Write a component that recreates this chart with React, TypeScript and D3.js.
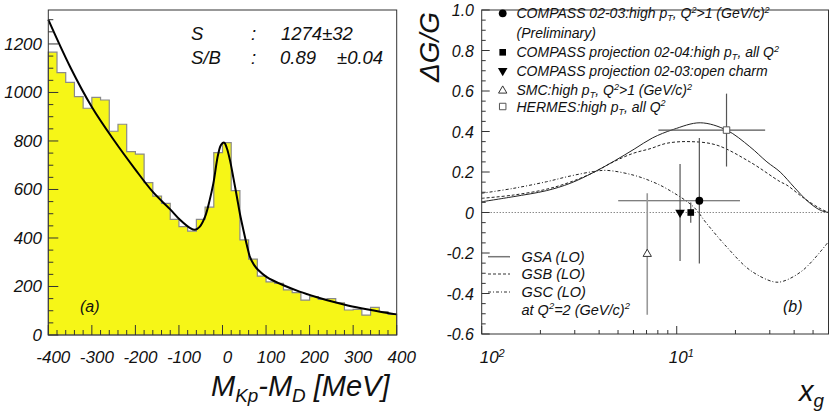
import React, { useEffect, useRef } from "react";
import * as d3 from "d3";

const W = 830;
const H = 413;
const FONT = "'Liberation Sans', Arial, sans-serif";

// ---- left panel: mass spectrum ----
const binLow = d3.range(-400, 400, 20);
const binCounts = [
  1166, 1082, 1042, 983, 935, 980, 969, 840, 869, 756, 746, 628, 573, 543, 477,
  447, 428, 477, 527, 752, 793, 595, 392, 313, 243, 219, 213, 186, 175, 144, 158,
  147, 150, 133, 103, 106, 82, 114, 96, 85,
];
const fitMass = [
  -400, -350, -300, -250, -200, -160, -120, -97, -75, -63, -52, -40, -30, -21,
  -10, -3, 4, 10, 17, 25, 33, 40, 48, 56, 63, 72, 82, 101, 140, 177, 215, 254,
  290, 331, 365, 400,
];
const fitCounts = [
  1300, 1106, 940, 805, 682, 590, 518, 474, 442, 434, 447, 488, 552, 625, 745,
  785, 793, 770, 722, 648, 570, 500, 433, 370, 322, 290, 268, 240, 205, 179, 157,
  137, 121, 106, 95, 85,
];
const massTicks = [-400, -300, -200, -100, 0, 100, 200, 300, 400];
const countTicks = [0, 200, 400, 600, 800, 1000, 1200];

// ---- right panel: dG/G vs x_g ----
const gsaX = [0.01, 0.0145, 0.0215, 0.0284, 0.0373, 0.048, 0.061, 0.075, 0.096, 0.132, 0.18, 0.237, 0.29, 0.339, 0.4, 0.47, 0.543, 0.6];
const gsaY = [0.053, 0.078, 0.108, 0.144, 0.197, 0.255, 0.315, 0.368, 0.41, 0.443, 0.407, 0.325, 0.25, 0.2, 0.125, 0.055, 0.012, 0.0];
const gsbX = [0.01, 0.0145, 0.0215, 0.0284, 0.0373, 0.0473, 0.0597, 0.073, 0.089, 0.117, 0.16, 0.237, 0.339, 0.366, 0.45, 0.543, 0.6];
const gsbY = [0.07, 0.086, 0.115, 0.15, 0.197, 0.25, 0.292, 0.315, 0.342, 0.35, 0.333, 0.25, 0.152, 0.136, 0.07, 0.02, 0.0];
const gscX = [0.01, 0.0145, 0.0215, 0.0284, 0.0373, 0.0437, 0.0597, 0.075, 0.089, 0.1216, 0.142, 0.18, 0.237, 0.313, 0.35, 0.445, 0.6];
const gscY = [0.095, 0.119, 0.152, 0.18, 0.202, 0.208, 0.185, 0.152, 0.117, 0.029, -0.053, -0.169, -0.284, -0.342, -0.34, -0.284, -0.144];

const pointNames = ["compass", "projHighPt", "projCharm", "smc", "hermes"];
const pointX = [0.1306, 0.118, 0.104, 0.0706, 0.18];
const pointY = [0.058, 0.0, 0.0, -0.205, 0.407];
const pointErr = [0.31, 0.05, 0.24, 0.3, 0.18];
const pointXLo = [0.0501, null, null, null, 0.0805];
const pointXHi = [0.211, null, null, null, 0.284];

const dgTicks = [-0.6, -0.4, -0.2, 0, 0.2, 0.4, 0.6, 0.8, 1.0];
const dgLabels = ["-0.6", "-0.4", "-0.2", "0", "0.2", "0.4", "0.6", "0.8", "1.0"];

type Part = [string, string?];

function richText(g: any, x: number, y: number, parts: Part[], size: number) {
  const t = g
    .append("text")
    .attr("x", x)
    .attr("y", y)
    .attr("font-size", size)
    .attr("font-style", "italic")
    .attr("fill", "#111");
  let shift = 0;
  parts.forEach(([s, kind]) => {
    const target = kind === "sub" ? size * 0.22 : kind === "sup" ? -size * 0.38 : 0;
    t.append("tspan")
      .attr("dy", target - shift)
      .attr("font-size", kind ? size * 0.65 : size)
      .text(s);
    shift = target;
  });
  return t;
}

function drawMarker(g: any, name: string, cx: number, cy: number) {
  if (name === "compass") {
    g.append("path").attr("d", d3.symbol(d3.symbolCircle, 48)()).attr("transform", `translate(${cx},${cy})`).attr("fill", "#000");
  } else if (name === "projHighPt") {
    g.append("path").attr("d", d3.symbol(d3.symbolSquare, 44)()).attr("transform", `translate(${cx},${cy})`).attr("fill", "#000");
  } else if (name === "projCharm") {
    g.append("path").attr("d", d3.symbol(d3.symbolTriangle, 40)()).attr("transform", `translate(${cx},${cy}) rotate(180)`).attr("fill", "#000");
  } else if (name === "smc") {
    g.append("path").attr("d", d3.symbol(d3.symbolTriangle, 30)()).attr("transform", `translate(${cx},${cy})`).attr("fill", "#fff").attr("stroke", "#333").attr("stroke-width", 1);
  } else {
    g.append("path").attr("d", d3.symbol(d3.symbolSquare, 42)()).attr("transform", `translate(${cx},${cy})`).attr("fill", "#fff").attr("stroke", "#555").attr("stroke-width", 1);
  }
}

export default function App() {
  const ref = useRef<SVGSVGElement>(null);

  useEffect(() => {
    const svg = d3.select(ref.current);
    svg.selectAll("*").remove();
    svg.append("rect").attr("width", W).attr("height", H).attr("fill", "#fff");

    // ================= left panel =================
    const left = svg.append("g");
    const x = d3.scaleLinear().domain([-400, 400]).range([48.3, 396.7]);
    const y = d3.scaleLinear().domain([0, 1340]).range([335, 10]);

    // histogram as a step outline
    let d = `M${x(-400)},${y(0)}`;
    binLow.forEach((lo, i) => {
      d += `L${x(lo)},${y(binCounts[i])}L${x(lo + 20)},${y(binCounts[i])}`;
    });
    d += `L${x(400)},${y(0)}Z`;
    left.append("path").attr("d", d).attr("fill", "#f6f617").attr("stroke", "#8a8a8a").attr("stroke-width", 1.2);

    // fit curve
    const fitLine = d3
      .line<number>()
      .x((_, i) => x(fitMass[i]))
      .y((v) => y(v))
      .curve(d3.curveCatmullRom);
    left.append("path").attr("d", fitLine(fitCounts)).attr("fill", "none").attr("stroke", "#000").attr("stroke-width", 2);

    // frame
    left.append("rect").attr("x", x(-400)).attr("y", y(1340)).attr("width", x(400) - x(-400)).attr("height", y(0) - y(1340))
      .attr("fill", "none").attr("stroke", "#333").attr("stroke-width", 1);

    // y ticks
    d3.range(0, 1301, 50).forEach((v) => {
      const len = v % 200 === 0 ? 10 : 5;
      left.append("line").attr("x1", x(-400)).attr("x2", x(-400) + len).attr("y1", y(v)).attr("y2", y(v)).attr("stroke", "#333");
    });
    countTicks.forEach((v) => {
      left.append("text").attr("x", 42).attr("y", y(v) + 6).attr("text-anchor", "end")
        .attr("font-size", 17).attr("font-style", "italic").attr("fill", "#111").text(v);
    });
    // x ticks
    d3.range(-400, 401, 20).forEach((v) => {
      const len = v % 100 === 0 ? 10 : 5;
      left.append("line").attr("x1", x(v)).attr("x2", x(v)).attr("y1", y(0)).attr("y2", y(0) - len).attr("stroke", "#333");
    });
    massTicks.forEach((v) => {
      left.append("text").attr("x", x(v) + 5).attr("y", 363).attr("text-anchor", "middle")
        .attr("font-size", 17).attr("font-style", "italic").attr("fill", "#111").text(v);
    });

    // axis title
    richText(left, 211, 396, [["M"], ["Kp", "sub"], ["-M"], ["D", "sub"], [" [MeV]"]], 29);

    // fit results
    const stat = (tx: number, ty: number, s: string) =>
      left.append("text").attr("x", tx).attr("y", ty).attr("font-size", 18.5).attr("font-style", "italic").attr("fill", "#111").text(s);
    stat(191, 40, "S");
    stat(251, 40, ":");
    stat(281, 40, "1274±32");
    stat(191, 64, "S/B");
    stat(251, 64, ":");
    stat(280, 64, "0.89");
    stat(337, 64, "±0.04");
    left.append("text").attr("x", 80).attr("y", 312).attr("font-size", 16).attr("font-style", "italic").attr("fill", "#111").text("(a)");

    // ================= right panel =================
    const right = svg.append("g");
    const xr = d3.scaleLog().domain([0.01, 0.6]).range([481.7, 828.5]);
    const yr = d3.scaleLinear().domain([-0.6, 1.0]).range([334, 10]);

    // zero line
    right.append("line").attr("x1", xr(0.01)).attr("x2", xr(0.6)).attr("y1", yr(0)).attr("y2", yr(0))
      .attr("stroke", "#555").attr("stroke-width", 1).attr("stroke-dasharray", "1,2");

    const curve = (xs: number[], ys: number[], dash: string | null) => {
      const line = d3
        .line<number>()
        .x((_, i) => xr(xs[i]))
        .y((v) => yr(v))
        .curve(d3.curveCatmullRom);
      const p = right.append("path").attr("d", line(ys)).attr("fill", "none").attr("stroke", "#222").attr("stroke-width", 1);
      if (dash) p.attr("stroke-dasharray", dash);
    };
    curve(gsaX, gsaY, null);
    curve(gsbX, gsbY, "3,2");
    curve(gscX, gscY, "3,2,1,2");

    // data points with error bars
    pointNames.forEach((name, i) => {
      const cx = xr(pointX[i]);
      const cy = yr(pointY[i]);
      const col = name === "smc" ? "#999" : "#555";
      const sw = name === "smc" ? 1.6 : 1.2;
      right.append("line").attr("x1", cx).attr("x2", cx).attr("y1", yr(pointY[i] + pointErr[i])).attr("y2", yr(pointY[i] - pointErr[i]))
        .attr("stroke", col).attr("stroke-width", sw);
      const lo = pointXLo[i];
      const hi = pointXHi[i];
      if (lo !== null && hi !== null) {
        right.append("line").attr("x1", xr(lo)).attr("x2", xr(hi)).attr("y1", cy).attr("y2", cy).attr("stroke", col).attr("stroke-width", sw);
      }
      drawMarker(right, name, cx, cy);
    });

    // frame
    right.append("rect").attr("x", xr(0.01)).attr("y", yr(1.0)).attr("width", xr(0.6) - xr(0.01)).attr("height", yr(-0.6) - yr(1.0))
      .attr("fill", "none").attr("stroke", "#333").attr("stroke-width", 1);

    // y ticks
    d3.range(-12, 21).forEach((k) => {
      const v = k * 0.05;
      const len = k % 4 === 0 ? 8 : 4;
      right.append("line").attr("x1", xr(0.01)).attr("x2", xr(0.01) + len).attr("y1", yr(v)).attr("y2", yr(v)).attr("stroke", "#333");
    });
    dgTicks.forEach((v, i) => {
      right.append("text").attr("x", 474).attr("y", yr(v) + 6).attr("text-anchor", "end")
        .attr("font-size", 16).attr("font-style", "italic").attr("fill", "#111").text(dgLabels[i]);
    });
    // x ticks (log)
    [0.01, 0.02, 0.03, 0.04, 0.05, 0.06, 0.07, 0.08, 0.09, 0.1, 0.2, 0.3, 0.4, 0.5].forEach((v) => {
      const len = v === 0.01 || v === 0.1 ? 8 : 4;
      right.append("line").attr("x1", xr(v)).attr("x2", xr(v)).attr("y1", yr(-0.6)).attr("y2", yr(-0.6) - len).attr("stroke", "#333");
    });
    richText(right, xr(0.01) - 2, 363, [["10"], ["2", "sup"]], 17);
    richText(right, xr(0.1) - 8, 363, [["10"], ["1", "sup"]], 17);

    // axis titles
    right.append("text").attr("transform", "translate(439,82) rotate(-90)").attr("font-size", 28)
      .attr("font-style", "italic").attr("fill", "#111").text("ΔG/G");
    richText(right, 799, 401, [["x"], ["g", "sub"]], 29);
    right.append("text").attr("x", 783).attr("y", 312).attr("font-size", 16).attr("font-style", "italic").attr("fill", "#111").text("(b)");

    // legend: data
    const lx = 502.7;
    const tx = 516.5;
    drawMarker(right, "compass", lx, 13.3);
    richText(right, tx, 18, [["COMPASS 02-03:high p"], ["T", "sub"], [", Q"], ["2", "sup"], [">1 (GeV/c)"], ["2", "sup"]], 14);
    richText(right, tx, 38, [["(Preliminary)"]], 14);
    drawMarker(right, "projHighPt", lx, 52.3);
    richText(right, tx, 57, [["COMPASS projection 02-04:high p"], ["T", "sub"], [", all Q"], ["2", "sup"]], 14);
    drawMarker(right, "projCharm", lx, 70.7);
    richText(right, tx, 76, [["COMPASS projection 02-03:open charm"]], 14);
    drawMarker(right, "smc", lx, 90.7);
    richText(right, tx, 95, [["SMC:high p"], ["T", "sub"], [", Q"], ["2", "sup"], [">1 (GeV/c)"], ["2", "sup"]], 14);
    drawMarker(right, "hermes", lx, 106.5);
    richText(right, tx, 111.5, [["HERMES:high p"], ["T", "sub"], [", all Q"], ["2", "sup"]], 14);

    // legend: parametrisations
    const legLines: [string, string | null, number][] = [
      ["GSA (LO)", null, 256.7],
      ["GSB (LO)", "3,2", 274],
      ["GSC (LO)", "3,2,1,2", 292],
    ];
    legLines.forEach(([label, dash, ly], i) => {
      const l = right.append("line").attr("x1", 488).attr("x2", 510).attr("y1", ly).attr("y2", ly)
        .attr("stroke", i === 0 ? "#777" : "#333").attr("stroke-width", i === 0 ? 1.5 : 1);
      if (dash) l.attr("stroke-dasharray", dash);
      richText(right, 521.5, ly + 5, [[label]], 14.5);
    });
    richText(right, 521.5, 315, [["at Q"], ["2", "sup"], ["=2 (GeV/c)"], ["2", "sup"]], 14.5);
  }, []);

  return (
    <svg
      ref={ref}
      width={W}
      height={H}
      style={{ position: "absolute", left: 0, top: 0, fontFamily: FONT }}
    />
  );
}
